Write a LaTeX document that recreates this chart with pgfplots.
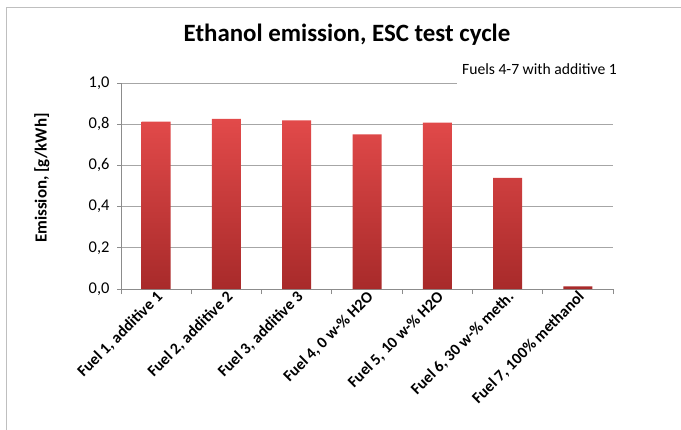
\documentclass[border=0pt]{standalone}
\usepackage{fontspec}
\setmainfont{Carlito}
\usepackage{pgfplots}
\pgfplotsset{compat=1.18}
\definecolor{gridc}{HTML}{A6A6A6}
\definecolor{axc}{HTML}{8C8C8C}
\definecolor{bartop}{HTML}{E24A4A}
\definecolor{barbot}{HTML}{A82A2A}
\begin{document}
\begin{tikzpicture}
\useasboundingbox (0,0) rectangle (681bp,430bp);
\draw[gray!50, line width=1.2bp] (6.5bp,0) -- (6.5bp,422.5bp) -- (681bp,422.5bp);
\begin{axis}[
  at={(121bp,141bp)}, anchor=south west,
  scale only axis, width=492bp, height=206bp,
  xmin=-0.5, xmax=6.5, ymin=0, ymax=1,
  axis x line=bottom, axis y line=left,
  axis line style={-, axc, line width=0.8bp},
  ytick={0,0.2,0.4,0.6,0.8,1.0},
  ymajorgrids, grid style={gridc, line width=0.8bp},
  xtick={0,1,2,3,4,5,6},
  minor xtick={-0.5,0.5,1.5,2.5,3.5,4.5,5.5,6.5},
  major x tick style={draw=none},
  minor x tick style={axc, line width=0.8bp},
  minor tick length=5bp,
  major tick length=4bp,
  tick align=outside,
  y tick style={axc, line width=0.8bp},
  yticklabel style={/pgf/number format/.cd, use comma, fixed, fixed zerofill, precision=1, /tikz/.cd, font=\fontsize{16.5}{16.5}\selectfont, xshift=-4bp},
  /pgf/number format/assume math mode=true,
  xticklabels={{Fuel 1, additive 1}, {Fuel 2, additive 2}, {Fuel 3, additive 3}, {Fuel 4, 0 w-\% H2O}, {Fuel 5, 10 w-\% H2O}, {Fuel 6, 30 w-\% meth.}, {Fuel 7, 100\% methanol}},
  xticklabel style={font=\bfseries\fontsize{16}{16}\selectfont, rotate=45, anchor=east, xshift=5bp, yshift=-4bp},
  clip=false,
]
\addplot[ybar, bar width=29bp, draw=none, top color=bartop, bottom color=barbot]
  coordinates {(0,0.812) (1,0.826) (2,0.818) (3,0.750) (4,0.808) (5,0.539) (6,0.013)};
\end{axis}
\node[font=\bfseries\fontsize{17}{17}\selectfont, rotate=90] at (42bp,252bp) {Emission, [g/kWh]};
\fill[white] (457bp,338bp) rectangle (681bp,382bp);
\node[font=\fontsize{15.7}{15.7}\selectfont, anchor=base] at (539.5bp,355bp) {Fuels 4-7 with additive 1};
\node[font=\bfseries\fontsize{25}{25}\selectfont, anchor=base] at (347bp,388bp) {Ethanol emission, ESC test cycle};
\end{tikzpicture}
\end{document}
